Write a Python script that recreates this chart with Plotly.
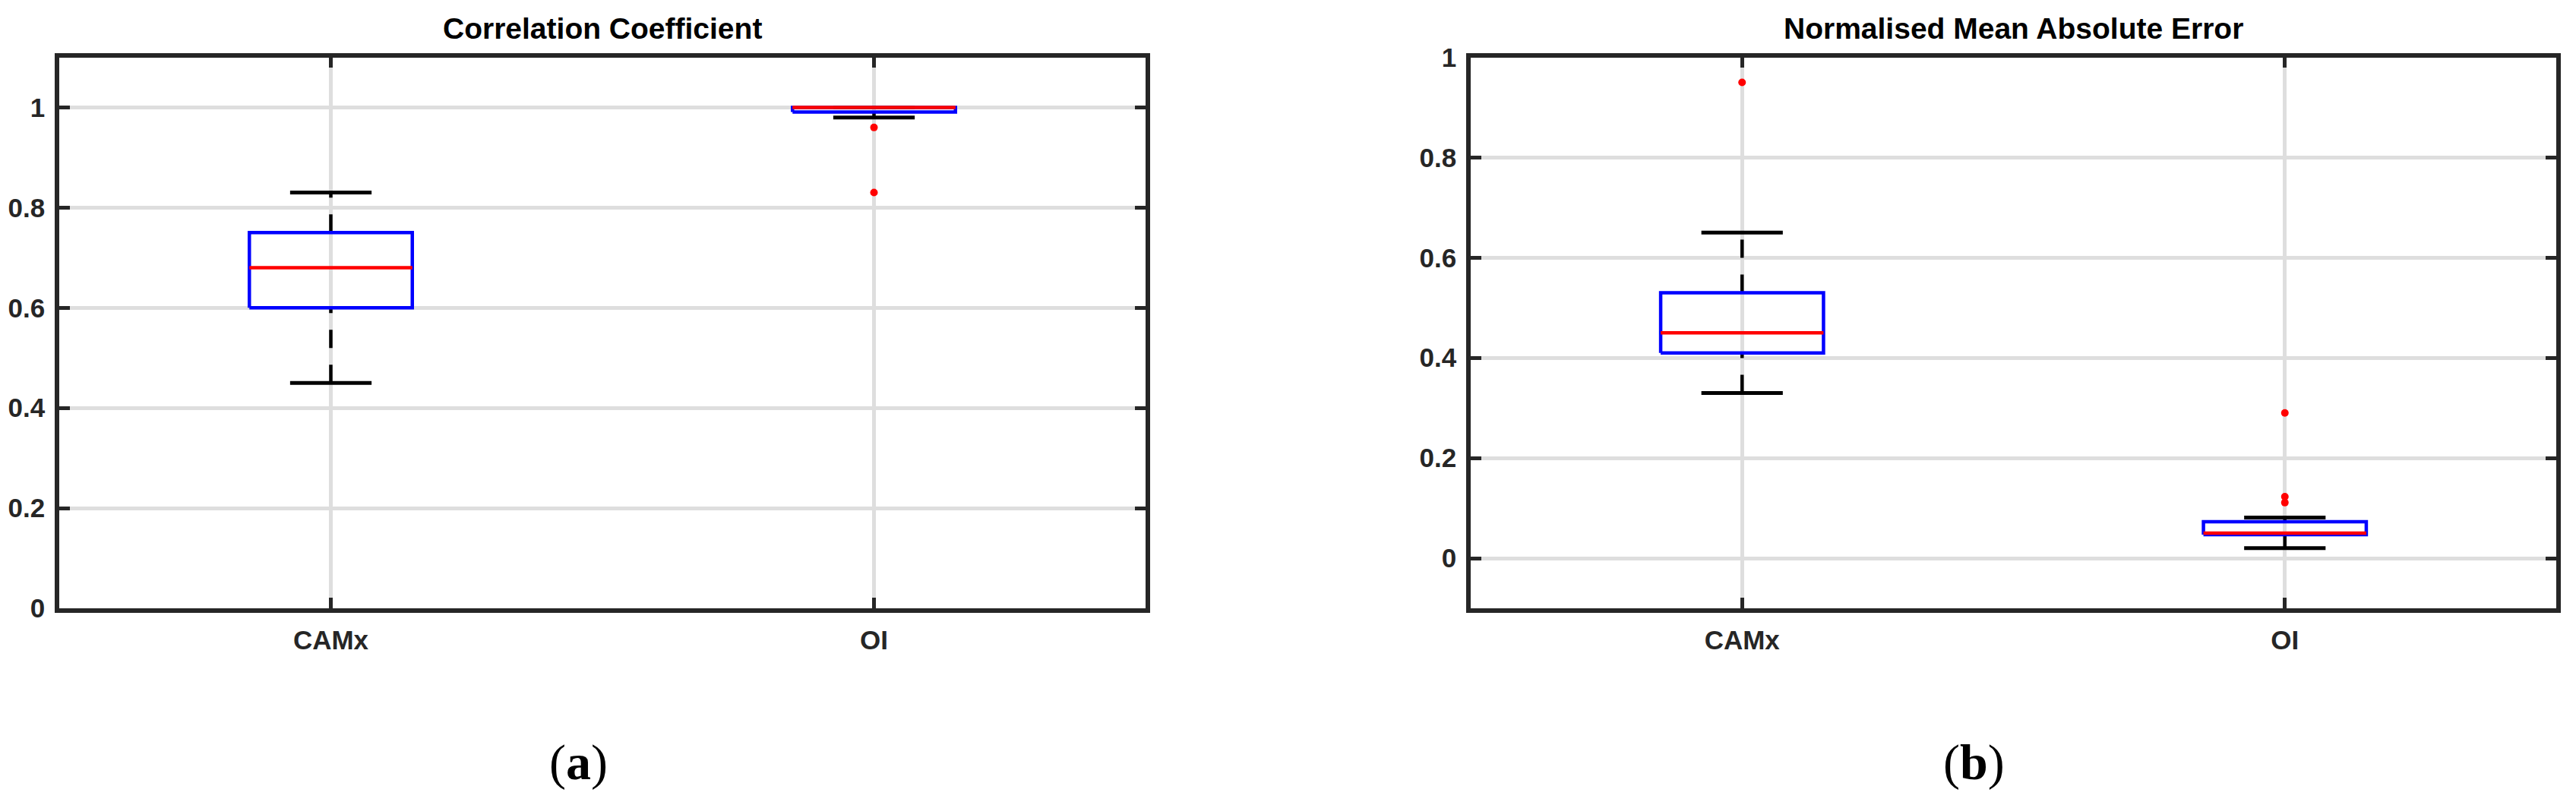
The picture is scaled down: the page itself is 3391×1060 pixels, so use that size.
import plotly.graph_objects as go

# ---------------- data ----------------
categories = ["CAMx", "OI"]
cat_pos = [1, 2]

# Panel (a): Correlation Coefficient
cc_lower = [0.45, 0.98]
cc_q1 = [0.60, 0.991]
cc_median = [0.68, 1.00]
cc_q3 = [0.75, 1.00]
cc_upper = [0.83, 1.00]
cc_outliers = [[], [0.96, 0.83]]

# Panel (b): Normalised Mean Absolute Error
nmae_lower = [0.33, 0.02]
nmae_q1 = [0.41, 0.047]
nmae_median = [0.45, 0.05]
nmae_q3 = [0.53, 0.073]
nmae_upper = [0.65, 0.081]
nmae_outliers = [[0.95], [0.29, 0.123, 0.111]]

cc_yticks = [0, 0.2, 0.4, 0.6, 0.8, 1]
nmae_yticks = [0, 0.2, 0.4, 0.6, 0.8, 1]

titles = ["Correlation Coefficient", "Normalised Mean Absolute Error"]
panel_labels = ["a", "b"]

# ---------------- style ----------------
BOX_HW = 0.15
CAP_HW = 0.075
LW = 4.5
AX_COLOR = "#262626"
GRID_COLOR = "#dedede"
FONT = "Liberation Sans"

fig = go.Figure()


def add_boxes(xa, ya, lower, q1, med, q3, upper, outs):
    for i, c in enumerate(cat_pos):
        common = dict(xaxis=xa, yaxis=ya, mode="lines", showlegend=False,
                      hoverinfo="skip")
        # whiskers (drawn from lower value to higher value)
        fig.add_trace(go.Scatter(x=[c, c], y=[lower[i], q1[i]],
                                 line=dict(color="black", width=LW, dash="24px,22px"),
                                 **common))
        fig.add_trace(go.Scatter(x=[c, c], y=[q3[i], upper[i]],
                                 line=dict(color="black", width=LW, dash="24px,22px"),
                                 **common))
        # caps
        for v in (lower[i], upper[i]):
            fig.add_trace(go.Scatter(x=[c - CAP_HW, c + CAP_HW], y=[v, v],
                                     line=dict(color="black", width=5), **common))
        # box
        fig.add_trace(go.Scatter(
            x=[c - BOX_HW, c + BOX_HW, c + BOX_HW, c - BOX_HW, c - BOX_HW],
            y=[q1[i], q1[i], q3[i], q3[i], q1[i]],
            line=dict(color="#0000ff", width=LW), **common))
        # median
        fig.add_trace(go.Scatter(x=[c - BOX_HW, c + BOX_HW], y=[med[i], med[i]],
                                 line=dict(color="#ff0000", width=LW), **common))
        # outliers
        if outs[i]:
            fig.add_trace(go.Scatter(x=[c] * len(outs[i]), y=outs[i], mode="markers",
                                     marker=dict(color="#ff0000", size=10),
                                     xaxis=xa, yaxis=ya, showlegend=False,
                                     hoverinfo="skip"))


add_boxes("x", "y", cc_lower, cc_q1, cc_median, cc_q3, cc_upper, cc_outliers)
add_boxes("x2", "y2", nmae_lower, nmae_q1, nmae_median, nmae_q3, nmae_upper, nmae_outliers)

# page body has an 8px margin: figure is placed at (8, 8)
OFF = 8
W, H = 3391 - 2 * OFF, 1060 - 2 * OFF


def fx(px):
    return (px - OFF) / W


def fy(px):
    return 1 - (px - OFF) / H


y_dom = [fy(801), fy(75.5)]
x1_dom = [fx(78), fx(1508)]
x2_dom = [fx(1936), fx(3365)]

axis_common = dict(
    showline=True, mirror="ticks", linecolor=AX_COLOR, linewidth=5.5,
    ticks="inside", ticklen=14, tickwidth=5, tickcolor=AX_COLOR,
    showgrid=True, gridcolor=GRID_COLOR, gridwidth=5, zeroline=False,
    automargin=False,
    tickfont=dict(family=FONT, size=35, color=AX_COLOR, weight="bold"),
)

fig.update_layout(
    width=W, height=H,
    margin=dict(l=0, r=0, t=0, b=0, autoexpand=False),
    paper_bgcolor="white", plot_bgcolor="white",
    xaxis=dict(domain=x1_dom, range=[0.5, 2.5], tickvals=cat_pos, ticktext=categories,
               anchor="y", ticklabelstandoff=6, **axis_common),
    yaxis=dict(domain=y_dom, range=[0, 1.1], tickvals=cc_yticks,
               ticktext=[f"{v:g}" for v in cc_yticks], anchor="x",
               ticklabelstandoff=6, **axis_common),
    xaxis2=dict(domain=x2_dom, range=[0.5, 2.5], tickvals=cat_pos, ticktext=categories,
                anchor="y2", ticklabelstandoff=6, **axis_common),
    yaxis2=dict(domain=y_dom, range=[-0.1, 1], tickvals=nmae_yticks,
                ticktext=[f"{v:g}" for v in nmae_yticks], anchor="x2",
                ticklabelstandoff=6, **axis_common),
)

annotations = []
for dom, t in zip([x1_dom, x2_dom], titles):
    annotations.append(dict(
        text=t, x=(dom[0] + dom[1]) / 2, y=fy(37), xref="paper", yref="paper",
        xanchor="center", yanchor="middle", showarrow=False,
        font=dict(family=FONT, size=39, color="black", weight="bold")))

for xc, lab in zip([fx(761), fx(2598)], panel_labels):
    annotations.append(dict(
        text=f"(<b>{lab}</b>)", x=xc, y=fy(1004), xref="paper", yref="paper",
        xanchor="center", yanchor="middle", showarrow=False,
        font=dict(family="Liberation Serif", size=66, color="black")))

fig.update_layout(annotations=annotations)

fig.write_html("out.html")
